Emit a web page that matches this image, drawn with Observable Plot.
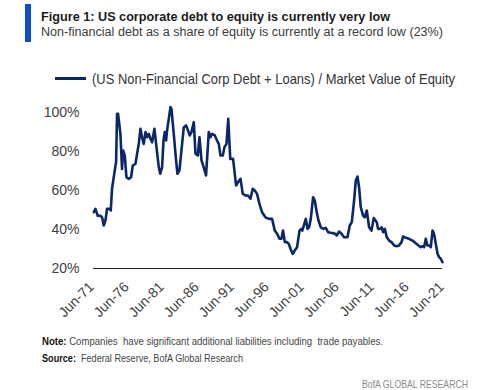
<!DOCTYPE html>
<html>
<head>
<meta charset="utf-8">
<script src="https://cdn.jsdelivr.net/npm/d3@7"></script>
<script src="https://cdn.jsdelivr.net/npm/@observablehq/plot@0.6"></script>
<style>
  html, body { margin: 0; padding: 0; background: #fff; }
  #wrap { position: relative; width: 500px; height: 390px; overflow: hidden; background: #fff; font-family: "Liberation Sans", Arial, sans-serif; }
  .t { position: absolute; white-space: pre; line-height: 1; transform-origin: 0 0; }
  #chart { position: absolute; left: 0; top: 95px; }
</style>
</head>
<body>
<div id="wrap">
  <div id="chart"></div>
</div>
<script>
// ---- Data ----
const titleText = "Figure 1: US corporate debt to equity is currently very low";
const subtitleText = "Non-financial debt as a share of equity is currently at a record low (23%)";
const seriesName = "(US Non-Financial Corp Debt + Loans) / Market Value of Equity";
const noteLabel = "Note:";
const noteText = " Companies  have significant additional liabilities including  trade payables.";
const sourceLabel = "Source:";
const sourceText = "  Federal Reserve, BofA Global Research";
const brandText = "BofA GLOBAL RESEARCH";

// decimal years
const years = [
  1971.45, 1971.69, 1972.02, 1972.41, 1972.64, 1972.88, 1973.12, 1973.35, 1973.69, 1973.88,
  1974.06, 1974.45, 1974.64, 1974.78, 1974.92, 1975.26, 1975.49, 1975.64, 1975.88, 1976.12,
  1976.45, 1976.78, 1977.02, 1977.41, 1977.64, 1977.88, 1978.12, 1978.35, 1978.59, 1978.84,
  1979.06, 1979.31, 1979.55, 1979.78, 1980.12, 1980.41, 1980.74, 1980.95, 1981.21, 1981.41,
  1981.59, 1981.78, 1981.92, 1982.41, 1982.55, 1982.88, 1983.21, 1983.41, 1983.69, 1983.98,
  1984.31, 1984.64, 1984.92, 1985.16, 1985.41, 1985.74, 1985.98, 1986.31, 1986.55, 1986.84,
  1987.16, 1987.49, 1987.88, 1988.12, 1988.35, 1988.74, 1989.06, 1989.31, 1989.55, 1989.88,
  1990.12, 1990.41, 1990.66, 1990.95, 1991.35, 1991.78, 1992.06, 1992.41, 1992.74, 1993.12,
  1993.45, 1993.84, 1994.16, 1994.45, 1994.78, 1995.12, 1995.49, 1995.98, 1996.45, 1996.92,
  1997.31, 1997.64, 1997.98, 1998.26, 1998.49, 1998.74, 1999.06, 1999.31, 1999.55, 1999.88,
  2000.16, 2000.49, 2000.84, 2001.09, 2001.24, 2001.74, 2001.98, 2002.21, 2002.45, 2002.78,
  2003.02, 2003.26, 2003.55, 2003.88, 2004.26, 2004.59, 2004.92, 2005.31, 2005.64, 2005.92,
  2006.16, 2006.49, 2006.84, 2007.21, 2007.69, 2008.02, 2008.31, 2008.64, 2008.88, 2009.12,
  2009.35, 2009.59, 2009.92, 2010.16, 2010.45, 2010.78, 2011.12, 2011.45, 2011.88, 2012.06,
  2012.35, 2012.59, 2012.78, 2013.02, 2013.31, 2013.64, 2013.98, 2014.36, 2014.71, 2015.06,
  2015.41, 2015.64, 2016.02, 2016.49, 2016.98, 2017.45, 2017.84, 2018.16, 2018.41, 2018.64,
  2018.88, 2019.12, 2019.36, 2019.59, 2019.84, 2020.06, 2020.31, 2020.56, 2020.78, 2021.02,
  2021.26
];
// debt / market value of equity, %
const ratio = [
  48.8, 50.5, 47.0, 47.0, 46.2, 42.0, 44.6, 50.5, 50.5, 49.7,
  60.8, 70.2, 74.4, 99.2, 99.2, 88.9, 71.0, 80.4, 77.8, 66.7,
  65.9, 66.7, 72.7, 73.6, 78.7, 83.8, 91.5, 87.2, 83.8, 89.8,
  87.2, 88.9, 86.4, 84.6, 91.5, 82.1, 71.8, 68.5, 71.8, 85.5,
  89.8, 85.5, 90.6, 102.6, 101.7, 88.9, 75.3, 68.5, 70.2, 80.4,
  92.3, 93.2, 90.6, 88.1, 89.8, 94.9, 78.7, 77.8, 87.2, 75.3,
  71.8, 67.6, 89.8, 87.2, 88.9, 88.1, 85.5, 83.8, 77.8, 77.8,
  82.1, 83.8, 96.6, 76.1, 76.1, 62.5, 64.2, 65.9, 58.2, 57.4,
  57.4, 55.7, 60.8, 59.9, 58.2, 53.1, 48.8, 46.2, 45.4, 45.4,
  39.4, 37.8, 35.2, 35.2, 39.4, 33.5, 33.5, 32.6, 30.1, 27.5,
  29.2, 30.9, 39.4, 40.3, 39.4, 45.4, 40.3, 41.1, 45.4, 56.5,
  54.8, 49.7, 44.6, 41.1, 40.3, 40.8, 38.6, 38.3, 38.1, 37.8,
  36.9, 38.9, 37.8, 36.0, 36.0, 42.0, 43.7, 54.8, 65.0, 67.1,
  61.6, 51.4, 47.1, 46.2, 49.7, 41.1, 39.4, 45.8, 43.7, 40.3,
  40.3, 41.1, 38.6, 40.3, 36.0, 34.3, 33.5, 31.8, 31.4, 31.8,
  33.5, 36.4, 35.7, 35.2, 34.3, 32.9, 31.8, 30.9, 31.4, 30.9,
  35.2, 31.8, 31.8, 30.9, 39.4, 37.8, 32.6, 27.5, 25.8, 25.0,
  23.2
];
const yTicks = [20, 40, 60, 80, 100];
const xTickYears = [1971, 1976, 1981, 1986, 1991, 1996, 2001, 2006, 2011, 2016, 2021];

// ---- helpers ----
function toDate(y) {
  const yr = Math.floor(y);
  const s = Date.UTC(yr, 0, 1), e = Date.UTC(yr + 1, 0, 1);
  return new Date(s + (y - yr) * (e - s));
}
const data = years.map((y, i) => ({date: toDate(y), value: ratio[i]}));
const xTicks = xTickYears.map(y => new Date(Date.UTC(y, 5, 1)));

const wrap = document.getElementById("wrap");
function addText(parts, x, baseline, fs, width) {
  const el = document.createElement("div");
  el.className = "t";
  el.style.left = x + "px";
  el.style.top = (baseline - 0.8465 * fs) + "px";
  el.style.fontSize = fs + "px";
  for (const p of parts) {
    const s = document.createElement("span");
    s.textContent = p.text;
    if (p.weight) s.style.fontWeight = p.weight;
    s.style.color = p.color;
    el.appendChild(s);
  }
  wrap.appendChild(el);
  if (width) {
    const w = el.getBoundingClientRect().width;
    el.style.transform = `scaleX(${width / w})`;
  }
  return el;
}
function addBox(x, y, w, h, color) {
  const el = document.createElement("div");
  Object.assign(el.style, {position: "absolute", left: x + "px", top: y + "px", width: w + "px", height: h + "px", background: color});
  wrap.appendChild(el);
}

// ---- header ----
addBox(25, 4, 6, 38, "#0b4fc4");
addText([{text: titleText, weight: "bold", color: "#1a1a1a"}], 41, 21, 13.5, 349);
addText([{text: subtitleText, color: "#3a3a3a"}], 41, 36, 12, 402);

// legend
addBox(55, 77, 31, 2.6, "#0b2769");
addText([{text: seriesName, color: "#333"}], 92, 84, 15, 363);

// ---- footer ----
addText([{text: noteLabel, weight: "bold", color: "#111"}, {text: noteText, color: "#444"}], 42, 345.5, 10, 341);
addText([{text: sourceLabel, weight: "bold", color: "#111"}, {text: sourceText, color: "#444"}], 42, 362, 10, 201);
addText([{text: brandText, color: "#8a8a8a"}], 362, 388.5, 11, 106);

// ---- chart ----
const chart = Plot.plot({
  width: 500,
  height: 235,
  marginLeft: 93,
  marginRight: 58,
  marginTop: 16.7,
  marginBottom: 62,
  style: {fontFamily: "Liberation Sans, Arial, sans-serif", fontSize: "14px", color: "#404040", background: "transparent", overflow: "visible"},
  x: {
    type: "utc",
    domain: [new Date(Date.UTC(1971, 5, 1)), new Date(Date.UTC(2021, 3, 8))],
    label: null
  },
  y: {
    domain: [20, 100],
    label: null
  },
  marks: [
    Plot.axisX({ticks: xTicks, tickFormat: d3.utcFormat("%b-%y"), tickRotate: -45, tickSize: 0, tickPadding: 10, dx: -2, dy: 6, label: null}),
    Plot.axisY({ticks: yTicks, tickFormat: d => d + "%", tickSize: 0, tickPadding: 14, label: null}),
    Plot.ruleY([20], {stroke: "#222", strokeWidth: 1.2}),
    Plot.lineY(data, {x: "date", y: "value", stroke: "#0b2769", strokeWidth: 2.6, strokeLinejoin: "round"})
  ]
});
document.getElementById("chart").appendChild(chart);
</script>
</body>
</html>
